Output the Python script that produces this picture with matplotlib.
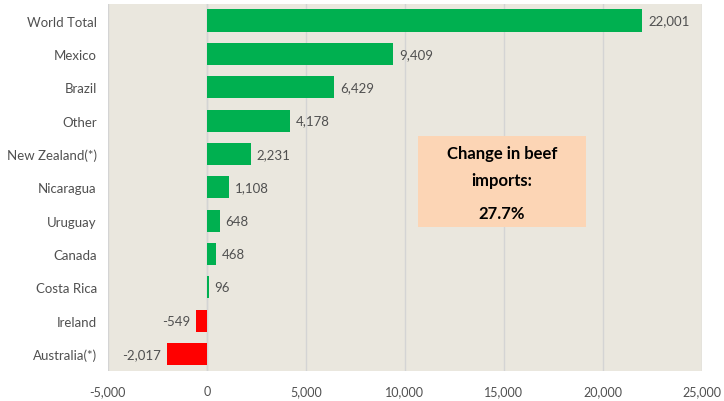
import matplotlib
matplotlib.use("Agg")
import matplotlib.pyplot as plt
from matplotlib.patches import Rectangle

categories = ["World Total", "Mexico", "Brazil", "Other", "New Zealand(*)", "Nicaragua",
              "Uruguay", "Canada", "Costa Rica", "Ireland", "Australia(*)"]
values = [22001, 9409, 6429, 4178, 2231, 1108, 648, 468, 96, -549, -2017]
xticks = [-5000, 0, 5000, 10000, 15000, 20000, 25000]
box_lines = ["Change in beef", "imports:", "27.7%"]

plt.rcParams['font.family'] = ['Lato', 'DejaVu Sans']

fig = plt.figure(figsize=(7.24, 4.02), dpi=100)
ax = fig.add_axes([0.149, 0.075, 0.820, 0.913])
ax.set_facecolor('#EAE7DE')

y = list(range(len(categories)))
colors = ['#00B050' if v >= 0 else '#FF0000' for v in values]
ax.barh(y, values, height=0.66, color=colors, zorder=3)

tc = '#505050'
fs = 9.5
for yi, v in zip(y, values):
    if v >= 0:
        ax.text(v + 300, yi, f"{v:,}", va='center', ha='left', fontsize=fs, color=tc, zorder=4)
    else:
        ax.text(v - 300, yi, f"{v:,}", va='center', ha='right', fontsize=fs, color=tc, zorder=4)

ax.set_xlim(-5000, 25000)
ax.set_ylim(len(categories) - 0.5, -0.5)
ax.set_xticks(xticks)
ax.set_xticklabels([f"{t:,}" for t in xticks], fontsize=9, color=tc)
ax.set_yticks(y)
ax.set_yticklabels(categories, fontsize=fs, color=tc)
ax.tick_params(axis='y', length=0, pad=8)
ax.tick_params(axis='x', length=0, pad=10)
ax.xaxis.grid(True, color='#D4D4D4', linewidth=1, zorder=0)
ax.yaxis.grid(False)
for s in ax.spines.values():
    s.set_visible(False)
ax.axvline(0, color='#D4D4D4', linewidth=1, zorder=1)

box = Rectangle((0.522, 0.392), 0.283, 0.248, transform=ax.transAxes,
                facecolor='#FCD5B5', edgecolor='none', zorder=5)
ax.add_patch(box)
cx = 0.522 + 0.283 / 2
ax.text(cx, 0.594, box_lines[0], transform=ax.transAxes, ha='center', va='center',
        fontsize=12, fontweight='bold', color='black', zorder=6)
ax.text(cx, 0.520, box_lines[1], transform=ax.transAxes, ha='center', va='center',
        fontsize=12, fontweight='bold', color='black', zorder=6)
ax.text(cx, 0.430, box_lines[2], transform=ax.transAxes, ha='center', va='center',
        fontsize=12, fontweight='bold', color='black', zorder=6)

fig.savefig("out.png", dpi=100, facecolor='white')
